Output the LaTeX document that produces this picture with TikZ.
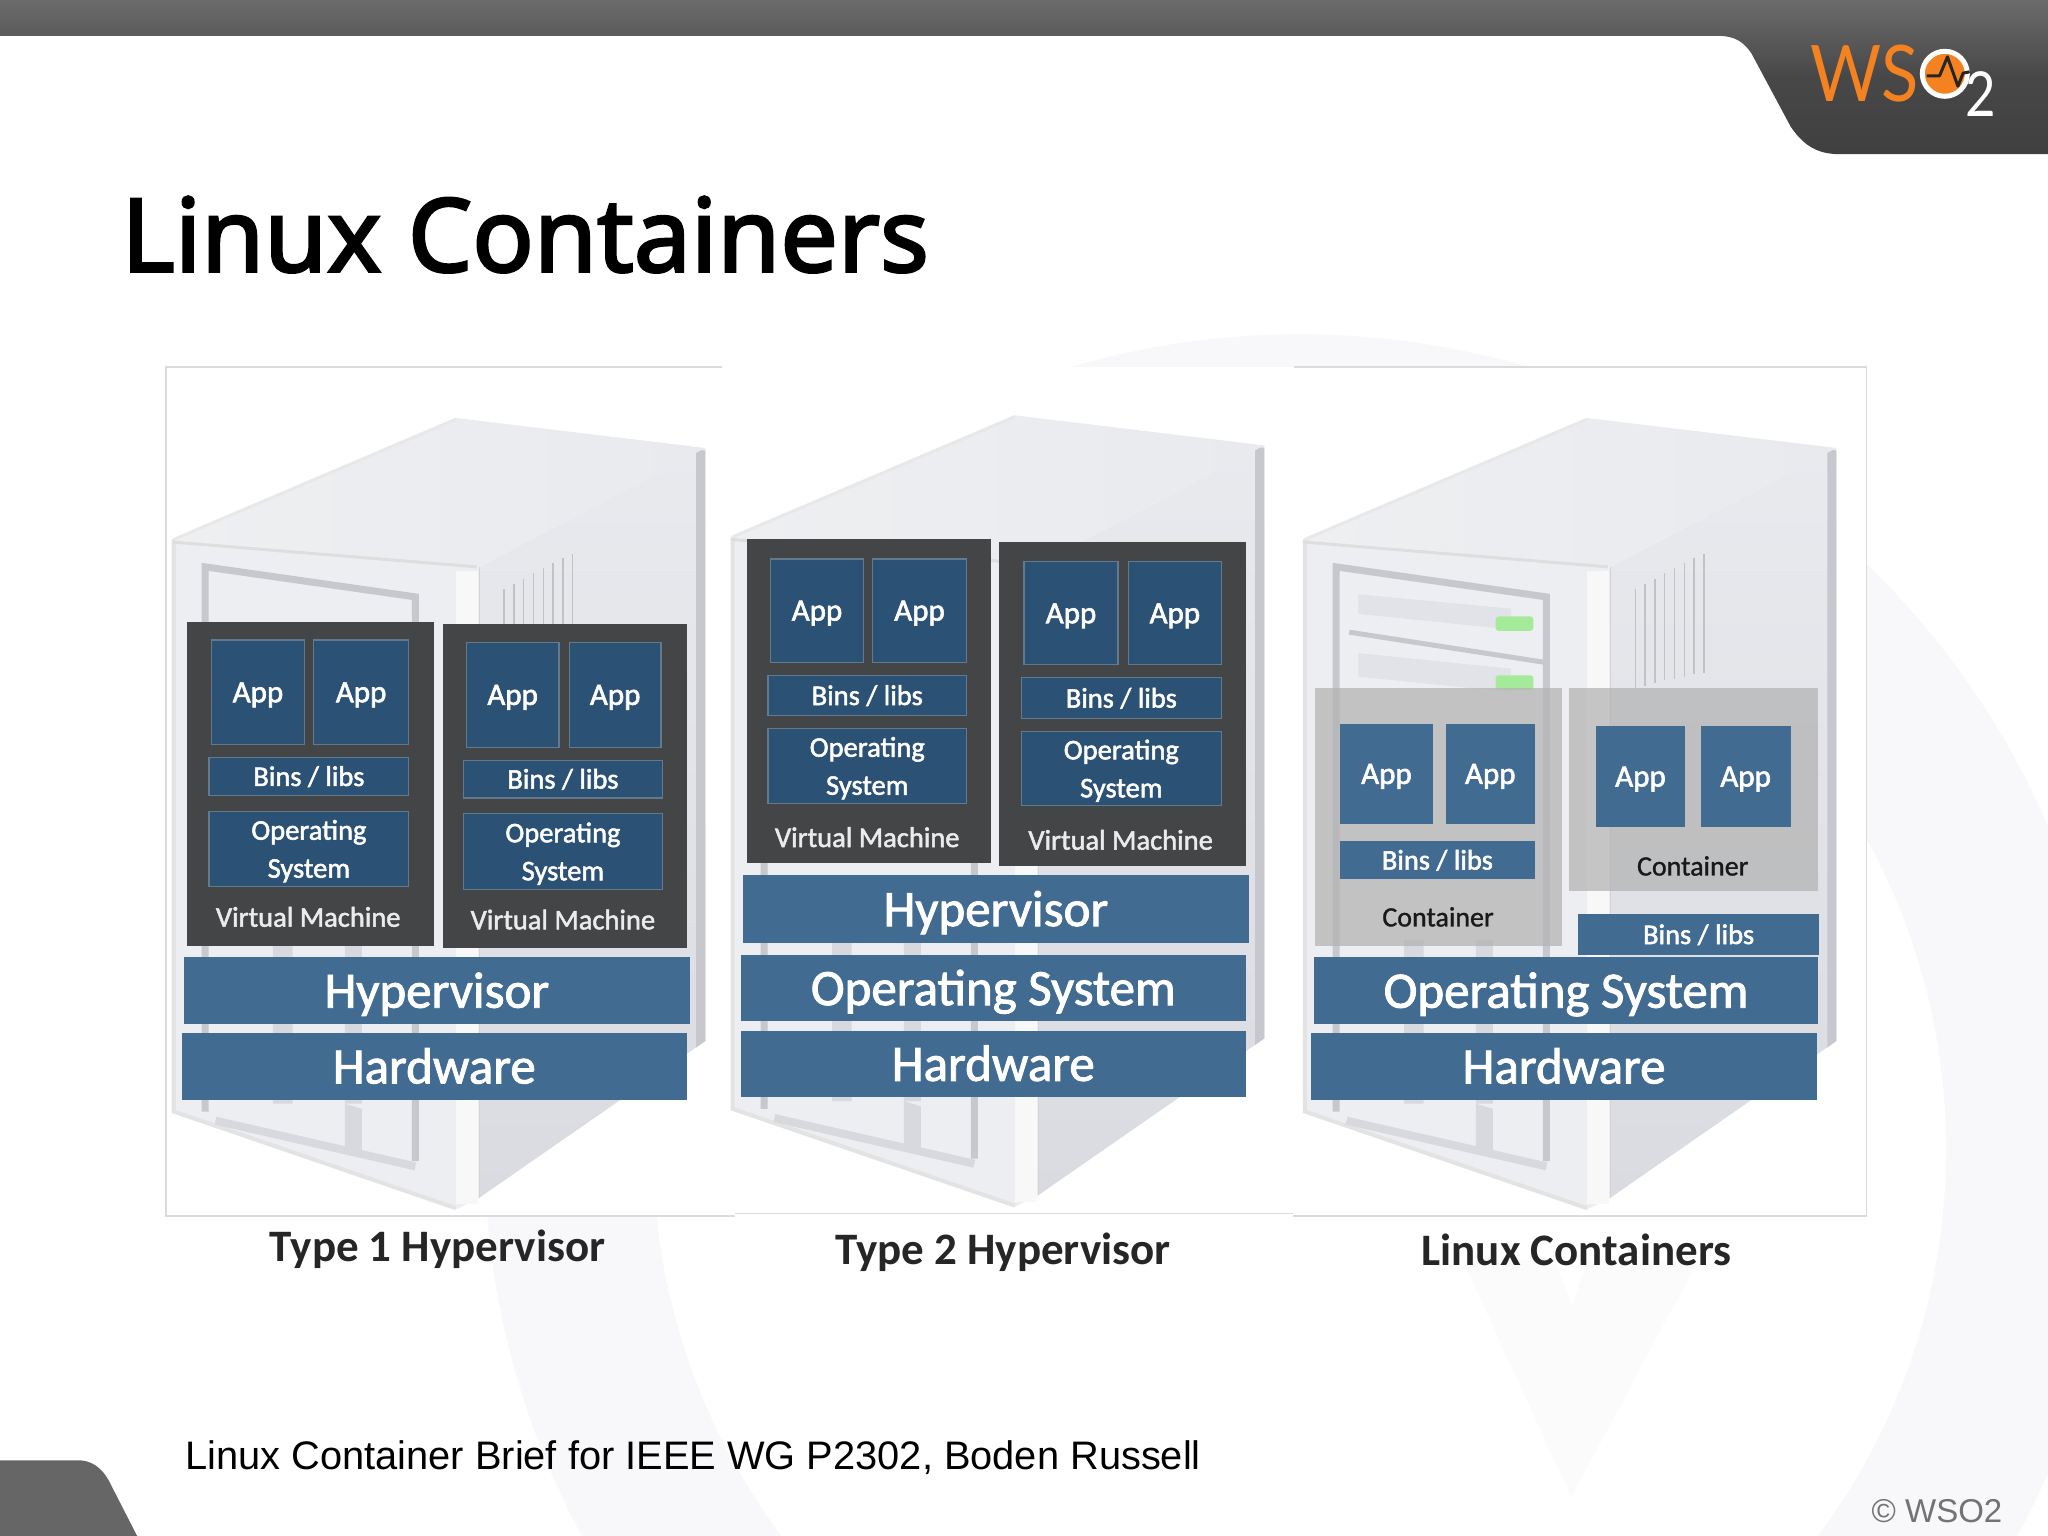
\documentclass[tikz,border=0pt]{standalone}
\usepackage{graphicx}
\usepackage{fontspec}
\setmainfont{Liberation Sans}
\newfontfamily\boxfont{Carlito}
\newfontfamily\capfont{Carlito}
\newfontfamily\titlefont{Noto Sans}
\newfontfamily\logofont{Lato}
\usetikzlibrary{calc}
\definecolor{vmdark}{HTML}{444547}
\definecolor{deep}{HTML}{2B5175}
\definecolor{deepedge}{HTML}{62798E}
\definecolor{layer}{HTML}{426B92}
\definecolor{orangew}{HTML}{F58220}
\definecolor{wmark}{HTML}{F8F7F9}
\definecolor{wmarkv}{HTML}{FBFBFC}
\definecolor{tabgrey}{HTML}{666666}
\definecolor{twtop}{HTML}{EEEFF1}
\definecolor{twfront}{HTML}{EDEEF1}
\definecolor{twrighta}{HTML}{E9EAEE}
\definecolor{twrightb}{HTML}{D9DBE1}
\definecolor{twedge}{HTML}{C6C8CE}
\definecolor{twsoft}{HTML}{D8D9DE}
\definecolor{twdrive}{HTML}{E2E3E8}
\definecolor{ledg}{HTML}{A5EA9A}
\tikzset{
  x=1.30612pt,y=-1.30612pt,
  stroked/.style={execute at begin node={\special{pdf:literal #1 w 2 Tr}},
                  execute at end node={\special{pdf:literal 0 Tr}}},
  plain/.style={inner sep=0pt,outer sep=0pt,align=center,text=white},
  vmbox/.style={plain,fill=vmdark},
  deepbox/.style={plain,fill=deep,draw=deepedge,line width=1.2pt},
  flatbox/.style={plain,fill=layer},
  ctbox/.style={plain,fill=black!30,fill opacity=.72,text opacity=1},
  apptxt/.style={font=\boxfont\fontsize{31}{36}\selectfont,text height=20pt,text depth=0pt,stroked=.6},
  smalltxt/.style={font=\boxfont\fontsize{28.5}{38}\selectfont,text height=19pt,text depth=0pt,stroked=.5},
  ostxt/.style={font=\boxfont\fontsize{28.5}{38}\selectfont,stroked=.5},
  bigtxt/.style={font=\boxfont\fontsize{51}{60}\selectfont,text height=34pt,text depth=0pt,stroked=.9},
  vmlabel/.style={plain,font=\boxfont\fontsize{28.5}{34}\selectfont,text=white!92!black,stroked=.5},
  ctlabel/.style={plain,font=\boxfont\fontsize{28}{34}\selectfont,text=black!90,stroked=.3},
  caption/.style={plain,font=\capfont\bfseries\fontsize{45}{50}\selectfont,text=black!85},
  frameline/.style={draw=black!14,line width=1.3pt},
  bayedge/.style={draw=twedge,line width=7pt},
  ventline/.style={draw=black!24,line width=1.4pt},
  led/.style={fill=ledg,rounded corners=3pt},
}
\newcommand{\ostext}{\rule{0pt}{24pt}Operating\\System}
% \bx{name}{x1}{y1}{x2}{y2}{styles}{text}
\newcommand{\bx}[7]{%
  \node[#6,minimum width={(#4-#2)*1.30612pt},minimum height={(#5-#3)*1.30612pt}]
    (#1) at ({(#2+#4)/2},{(#3+#5)/2}) {#7};}
% one server tower, local origin = top of tower 1 picture
\newcommand{\tower}[3]{%
\begin{scope}[shift={(#1,#2)}]
  \fill[twfront] (132,413) -- (367,434) -- (367,917) -- (349,926) -- (132,851) -- cycle;
  \shade[top color=twrighta,bottom color=twrightb] (367,434) -- (540,343) -- (540,797) -- (367,917) -- cycle;
  \fill[twedge] (533,344) -- (540,345) -- (540,797) -- (533,802) -- cycle;
  \shade[left color=twtop,right color=twrighta] (132,413) -- (349,320) -- (540,343) -- (367,434) -- cycle;
  \draw[draw=black!11,line width=4pt] (133,413) -- (133,851) -- (349,925);
  \draw[draw=black!9,line width=3pt] (133,413) -- (349,321);
  \draw[draw=black!17,line width=1.5pt] (367,434) -- (367,917);
  \fill[white!60!twfront] (349,437) rectangle (366,922);
  \draw[draw=black!13,line width=3pt] (132,415) -- (365,434);
  \fill[twsoft] (264,845) -- (277,849) -- (277,886) -- (264,882) -- cycle;
  \draw[draw=twsoft,line width=8pt] (165,858) -- (318,893);
  \draw[bayedge] (157,851) -- (157,434) -- (318,457) -- (318,889);
  \fill[twsoft] (209,720) rectangle (224,845) (264,720) rectangle (277,845);
  \draw[ventline] (386,451) -- (386,527) (393.5,447) -- (393.5,525) (401,443) -- (401,523)
     (408.5,439) -- (408.5,521) (416,435) -- (416,520) (423.5,431) -- (423.5,518)
     (431,427) -- (431,516) (438.5,424) -- (438.5,515);
  #3
\end{scope}}
\begin{document}
\begin{tikzpicture}
\useasboundingbox (0,0) rectangle (1568,1176);
\fill[white] (0,0) rectangle (1568,1176);
% faint watermark, covered by the white ground of the figure
\begin{scope}
  \clip (0,0) rectangle (1568,1176);
  \fill[wmark,even odd rule] (995,880) circle[radius=624] (995,880) circle[radius=495];
  \fill[wmarkv] (1120,965) -- (1203,1146) -- (1300,965) -- (1215,965) -- (1204,1000) -- (1190,965) -- cycle;
  \fill[white] (127,281) rectangle (1429,931);
\end{scope}
% header and corner tabs
\shade[top color=black!58,bottom color=black!75,middle color=black!72]
  (0,0) -- (1568,0) -- (1568,118) -- (1408,118)
  .. controls (1390,118) and (1380,110) .. (1371,97)
  -- (1341,41) .. controls (1335,32) and (1328,27.5) .. (1316,27.5) -- (0,27.5) -- cycle;
\fill[tabgrey] (0,1118) -- (60,1118) .. controls (70,1118) and (78,1124) .. (83,1133)
  -- (105,1176) -- (0,1176) -- cycle;
% logo
\node[plain,anchor=base west,text=orangew,font=\logofont\fontsize{78}{80}\selectfont] (wslogo) at (1386,78) {\scalebox{.88}[1]{WS}};
\node[plain,anchor=base west,font=\logofont\fontsize{62}{62}\selectfont] (logotwo) at (1505,89.5) {\scalebox{.85}[1]{2}};
\node[circle,fill=orangew,draw=white,line width=5pt,minimum size=45pt,inner sep=0pt] (logoring) at (1489,56.5) {};
\draw[black!85,line width=3pt,line join=round] (1475,58) -- (1485,58) -- (1491,43.5) -- (1499,66) -- (1503,56) -- (1508,55);
% title, frame, footer
\node[plain,anchor=base west,text=black,font=\titlefont\fontsize{102}{110}\selectfont,stroked=2.6] (title) at (93,208) {Linux Containers};
\coordinate (f1) at (127,281); \coordinate (f2) at (553,281);
\coordinate (f3) at (991,281); \coordinate (f4) at (1429,281);
\coordinate (f5) at (1429,931); \coordinate (f6) at (990,931);
\coordinate (f7) at (563,931); \coordinate (f8) at (127,931);
\coordinate (f9) at (563,929); \coordinate (f10) at (990,929);
\draw[frameline] (f2) -- (f1) -- (f8) -- (f7);
\draw[frameline] (f3) -- (f4) -- (f5) -- (f6);
\draw[frameline] (f9) -- (f10);
\node[plain,anchor=base west,text=black,font=\fontsize{39.8}{48}\selectfont] (footer) at (142,1125) {Linux Container Brief for IEEE WG P2302, Boden Russell};
\node[plain,anchor=base east,text=black!55,font=\fontsize{33}{40}\selectfont] (copy) at (1533,1166) {© WSO2};
% tower 1
\tower{0}{0}{}
\bx{vma}{143}{476}{332}{724}{vmbox}{}
\bx{vmb}{339}{478}{526}{726}{vmbox}{}
\bx{a1}{162}{490}{233}{570}{deepbox,apptxt}{App}
\bx{a2}{240}{490}{313}{570}{deepbox,apptxt}{App}
\bx{a3}{160}{580}{313}{609}{deepbox,smalltxt}{Bins / libs}
\bx{a4}{160}{621}{313}{679}{deepbox,ostxt}{\ostext}
\node[vmlabel] (a5) at (236,702) {Virtual Machine};
\bx{b1}{357}{492}{428}{572}{deepbox,apptxt}{App}
\bx{b2}{436}{492}{506}{572}{deepbox,apptxt}{App}
\bx{b3}{355}{582}{507}{611}{deepbox,smalltxt}{Bins / libs}
\bx{b4}{355}{623}{507}{681}{deepbox,ostxt}{\ostext}
\node[vmlabel] (b5) at (431,704) {Virtual Machine};
\bx{hyp1}{141}{733}{528}{784}{flatbox,bigtxt}{Hypervisor}
\bx{hw1}{139}{791}{526}{842}{flatbox,bigtxt}{Hardware}
\node[caption] (cap1) at (335,956.5) {Type 1 Hypervisor};
% tower 2
\tower{428}{-2}{}
\bx{vmc}{572}{413}{759}{661}{vmbox}{}
\bx{vmd}{765}{415}{954}{663}{vmbox}{}
\bx{c1}{590}{428}{661}{507}{deepbox,apptxt}{App}
\bx{c2}{668}{428}{740}{507}{deepbox,apptxt}{App}
\bx{c3}{588}{517}{740}{548}{deepbox,smalltxt}{Bins / libs}
\bx{c4}{588}{558}{740}{615}{deepbox,ostxt}{\ostext}
\node[vmlabel] (c5) at (664,641) {Virtual Machine};
\bx{d1}{784}{430}{856}{509}{deepbox,apptxt}{App}
\bx{d2}{864}{430}{935}{509}{deepbox,apptxt}{App}
\bx{d3}{782}{519}{935}{550}{deepbox,smalltxt}{Bins / libs}
\bx{d4}{782}{560}{935}{617}{deepbox,ostxt}{\ostext}
\node[vmlabel] (d5) at (858,643) {Virtual Machine};
\bx{hyp2}{569}{670}{956}{722}{flatbox,bigtxt}{Hypervisor}
\bx{os2}{567}{731}{954}{782}{flatbox,bigtxt}{Operating System}
\bx{hw2}{567}{789}{954}{840}{flatbox,bigtxt}{Hardware}
\node[caption] (cap2) at (768,958.5) {Type 2 Hypervisor};
% tower 3
\tower{866}{0}{%
  \fill[twdrive] (174,455) -- (291,466) -- (291,482) -- (174,470) -- cycle;
  \draw[draw=twedge,line width=5pt] (167,484) -- (316,507);
  \fill[twdrive] (174,500) -- (291,512) -- (291,530) -- (174,518) -- cycle;
  \fill[led] (279,472) rectangle (308,483);
  \fill[led] (279,517) rectangle (308,528);
}
\bx{ct1}{1007}{527}{1196}{724}{ctbox}{}
\bx{ct2}{1201}{527}{1392}{682}{ctbox}{}
\bx{e1}{1026}{554}{1097}{631}{flatbox,apptxt}{App}
\bx{e2}{1107}{554}{1175}{631}{flatbox,apptxt}{App}
\bx{e3}{1026}{644}{1175}{673}{flatbox,smalltxt}{Bins / libs}
\node[ctlabel] (e4) at (1101,702) {Container};
\bx{g1}{1222}{556}{1290}{633}{flatbox,apptxt}{App}
\bx{g2}{1302}{556}{1371}{633}{flatbox,apptxt}{App}
\node[ctlabel] (g3) at (1296,663) {Container};
\bx{g4}{1208}{700}{1393}{731}{flatbox,smalltxt}{Bins / libs}
\bx{os3}{1006}{733}{1392}{784}{flatbox,bigtxt}{Operating System}
\bx{hw3}{1004}{791}{1391}{842}{flatbox,bigtxt}{Hardware}
\node[caption] (cap3) at (1207,957) {Linux Containers};
\end{tikzpicture}
\end{document}
